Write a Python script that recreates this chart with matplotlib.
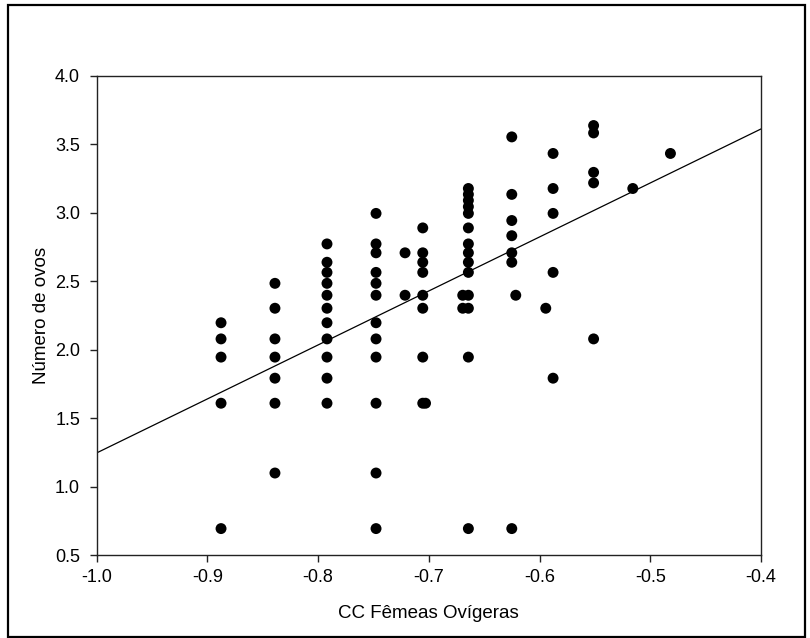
import numpy as np
import matplotlib
matplotlib.use("Agg")
import matplotlib.pyplot as plt
from matplotlib.patches import Rectangle

plt.rcParams['font.family'] = ['Liberation Sans', 'DejaVu Sans']

# CC (x) values for each point
cc_x = [
    -0.8877, -0.8877, -0.8877, -0.8877, -0.8877,
    -0.8390, -0.8390, -0.8390, -0.8390, -0.8390, -0.8390, -0.8390,
    -0.7920, -0.7920, -0.7920, -0.7920, -0.7920, -0.7920, -0.7920, -0.7920, -0.7920, -0.7920, -0.7920,
    -0.7477, -0.7477, -0.7477, -0.7477, -0.7477, -0.7477, -0.7477, -0.7477, -0.7477, -0.7477, -0.7477, -0.7477,
    -0.7215, -0.7215,
    -0.7055, -0.7055, -0.7055, -0.7055, -0.7055, -0.7055, -0.7055, -0.7055, -0.7030,
    -0.6643, -0.6643, -0.6643, -0.6643, -0.6643, -0.6643, -0.6643, -0.6643, -0.6643, -0.6643,
    -0.6643, -0.6643, -0.6643, -0.6643,
    -0.6694, -0.6694,
    -0.6251, -0.6251, -0.6251, -0.6251, -0.6251, -0.6251, -0.6251,
    -0.6215,
    -0.5944,
    -0.5878, -0.5878, -0.5878, -0.5878, -0.5878,
    -0.5512, -0.5512, -0.5512, -0.5512, -0.5512,
    -0.5158,
    -0.4818,
]

# Número de ovos (y) values for each point
ovos_y = [
    2.197, 2.079, 1.946, 1.609, 0.693,
    2.485, 2.303, 2.079, 1.946, 1.792, 1.609, 1.099,
    2.773, 2.639, 2.565, 2.485, 2.398, 2.303, 2.197, 2.079, 1.946, 1.792, 1.609,
    2.996, 2.773, 2.708, 2.565, 2.485, 2.398, 2.197, 2.079, 1.946, 1.609, 1.099, 0.693,
    2.708, 2.398,
    2.890, 2.708, 2.639, 2.565, 2.398, 2.303, 1.946, 1.609, 1.609,
    3.178, 3.135, 3.091, 3.045, 2.996, 2.890, 2.773, 2.708, 2.639, 2.565,
    2.398, 2.303, 1.946, 0.693,
    2.398, 2.303,
    3.555, 3.135, 2.944, 2.833, 2.708, 2.639, 0.693,
    2.398,
    2.303,
    3.434, 3.178, 2.996, 2.565, 1.792,
    3.638, 3.584, 3.296, 3.219, 2.079,
    3.178,
    3.434,
]

# Regression line
fit_slope = 3.945
fit_intercept = 5.191

x_ticks = [-1.0, -0.9, -0.8, -0.7, -0.6, -0.5, -0.4]
y_ticks = [0.5, 1.0, 1.5, 2.0, 2.5, 3.0, 3.5, 4.0]

fig = plt.figure(figsize=(8.10, 6.38), dpi=100)
ax = fig.add_axes([96.7 / 810, 1 - 555 / 638, (761 - 96.7) / 810, (555 - 76) / 638])

ax.scatter(cc_x, ovos_y, s=62, color='black', edgecolors='none', zorder=3, clip_on=False)

line_x = np.array([x_ticks[0], x_ticks[-1]])
ax.plot(line_x, fit_intercept + fit_slope * line_x, color='black', lw=0.9, zorder=2)

ax.set_xlim(x_ticks[0], x_ticks[-1])
ax.set_ylim(y_ticks[0], y_ticks[-1])
ax.set_xticks(x_ticks)
ax.set_yticks(y_ticks)
ax.set_xticklabels([f"{v:.1f}" for v in x_ticks])
ax.set_yticklabels([f"{v:.1f}" for v in y_ticks])

for s in ax.spines.values():
    s.set_linewidth(1.0)
    s.set_color('#222222')

ax.tick_params(axis='both', direction='out', length=5, width=1.0, colors='#222222',
               labelcolor='black', labelsize=13, top=False, right=False)
ax.tick_params(axis='y', pad=7)
ax.tick_params(axis='x', pad=5)

ax.set_xlabel("CC Fêmeas Ovígeras", fontsize=13.5, labelpad=14)
ax.set_ylabel("Número de ovos", fontsize=13.5, labelpad=3.5)

# outer frame around the whole figure
fig.patches.append(Rectangle((8 / 810, 1 / 638), (805 - 8) / 810, (633 - 1) / 638,
                             transform=fig.transFigure, fill=False, edgecolor='black', lw=1.6))

fig.savefig("out.png", dpi=100)
